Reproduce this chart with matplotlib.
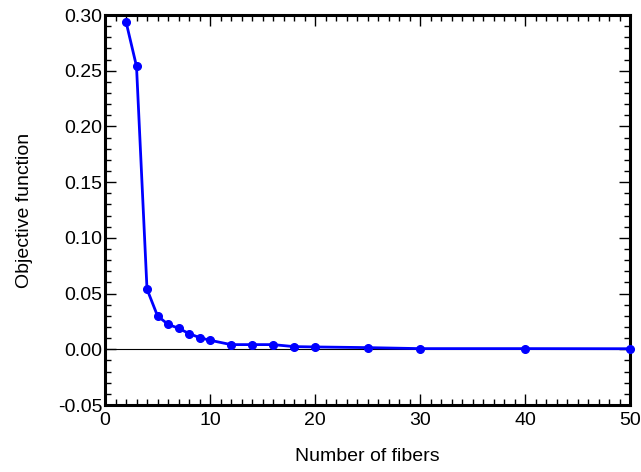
import matplotlib
matplotlib.use("Agg")
import matplotlib.pyplot as plt
from matplotlib.ticker import MultipleLocator, FormatStrFormatter

# fibre count vs objective value
n_fibers = [2, 3, 4, 5, 6, 7, 8, 9, 10, 12, 14, 16, 18, 20, 25, 30, 40, 50]
objective = [0.294, 0.254, 0.054, 0.030, 0.0224, 0.0189, 0.0141, 0.0105, 0.0081,
             0.0042, 0.0042, 0.0042, 0.0024, 0.0021, 0.0015, 0.0006, 0.0006, 0.0005]

plt.rcParams['font.family'] = ['Liberation Sans', 'DejaVu Sans']

fig = plt.figure(figsize=(6.41, 4.72), dpi=100)
ax = fig.add_axes([105/641, 1-405/472, 525/641, 390/472])

ax.axhline(0, color='black', lw=0.8, zorder=1)
ax.plot(n_fibers, objective, '-o', color='blue', lw=2, markersize=5.5, zorder=3, clip_on=False)

ax.set_xlim(0, 50)
ax.set_ylim(-0.05, 0.30)
ax.xaxis.set_major_locator(MultipleLocator(10))
ax.xaxis.set_minor_locator(MultipleLocator(1))
ax.yaxis.set_major_locator(MultipleLocator(0.05))
ax.yaxis.set_minor_locator(MultipleLocator(0.01))
ax.yaxis.set_major_formatter(FormatStrFormatter('%.2f'))

ax.tick_params(which='both', direction='in', top=True, right=True, labelsize=14, width=1)
ax.tick_params(which='major', length=8)
ax.tick_params(axis='y', which='major', pad=2)
ax.tick_params(axis='x', which='major', pad=5)
ax.tick_params(which='minor', length=4)
for s in ax.spines.values():
    s.set_linewidth(2.2)

ax.set_xlabel('Number of fibers', fontsize=14, labelpad=14)
ax.set_ylabel('Objective function', fontsize=14, labelpad=18)

fig.savefig('out.png', dpi=100)
